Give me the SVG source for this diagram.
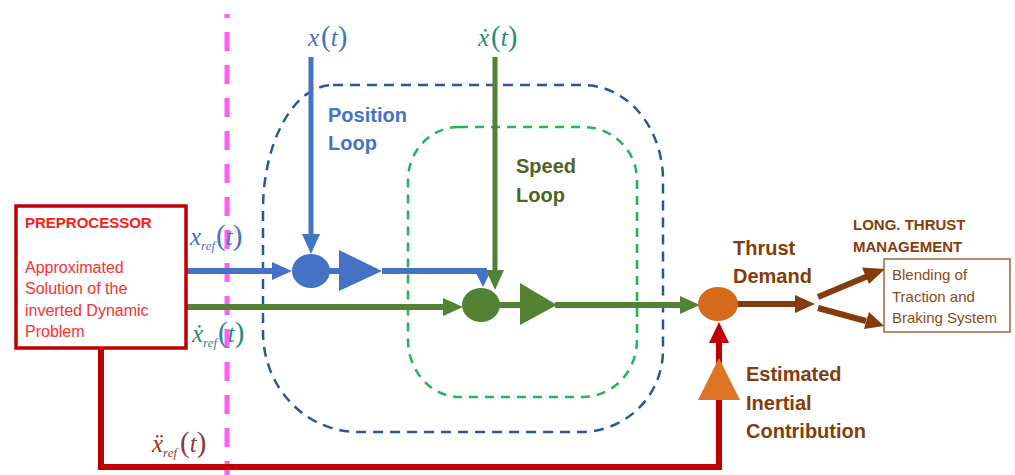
<svg xmlns="http://www.w3.org/2000/svg" width="1015" height="475" viewBox="0 0 1015 475">
<style>
.sans{font-family:"Liberation Sans",Arial,sans-serif}
.b{font-weight:bold}
.math{font-family:"Liberation Serif","DejaVu Serif",serif;font-size:25px}
.it{font-style:italic}
.par{font-size:29px}
.sub{font-size:13px;font-style:italic}
.dashblue{fill:none;stroke:#2f5597;stroke-width:2.5;stroke-dasharray:10 7}
.dashgreen{fill:none;stroke:#22b455;stroke-width:2.5;stroke-dasharray:9 7}
.blue{stroke:#4472c4;fill:none}
.green{stroke:#548235;fill:none}
.brown{stroke:#843c0c;fill:none}
.red{stroke:#c00000;fill:none}
</style>
<rect width="1015" height="475" fill="#ffffff"/>

<g id="loops">
<path id="position-loop" class="dashblue" d="M 333 85 H 583 A 80 95 0 0 1 663 180 V 350 A 82 82 0 0 1 581 432 H 358 A 95 100 0 0 1 263 332 V 210 A 70 125 0 0 1 333 85 Z"/>
<path id="speed-loop" class="dashgreen" d="M 459 127 H 583 A 54 53 0 0 1 637 180 V 340 A 54 57 0 0 1 583 397 H 460 A 52 57 0 0 1 408 340 V 180 A 51 53 0 0 1 459 127 Z"/>
</g>

<line id="boundary" x1="227" y1="14" x2="227" y2="475" stroke="#ff5cf2" stroke-width="5" stroke-dasharray="19 14" stroke-dashoffset="15"/>

<g id="connectors">
  <!-- x(t) vertical -->
  <line class="blue" x1="311" y1="57" x2="311" y2="236" stroke-width="5"/>
  <polygon points="302,234 320,234 311,254" fill="#4472c4"/>
  <!-- x_ref horizontal -->
  <line class="blue" x1="187" y1="271" x2="274" y2="271" stroke-width="6"/>
  <polygon points="272,262 272,280 292,271" fill="#4472c4"/>
  <!-- circle to gain -->
  <line class="blue" x1="311" y1="271" x2="342" y2="271" stroke-width="6"/>
  <!-- blue out to speed loop -->
  <polyline class="blue" points="382,271 484,271 484,275" stroke-width="6"/>
  <polygon points="476,273 490,273 483,287" fill="#4472c4"/>
  <!-- xdot(t) vertical -->
  <line class="green" x1="495" y1="57" x2="495" y2="272" stroke-width="5"/>
  <polygon points="486,270 504,270 495,290" fill="#548235"/>
  <!-- xdot_ref horizontal -->
  <line class="green" x1="187" y1="307" x2="445" y2="307" stroke-width="6"/>
  <polygon points="443,298 443,316 463,307" fill="#548235"/>
  <!-- circle to gain -->
  <line class="green" x1="481" y1="305" x2="523" y2="305" stroke-width="6"/>
  <!-- green out -->
  <line class="green" x1="555" y1="305" x2="682" y2="305" stroke-width="6"/>
  <polygon points="680,296 680,314 700,305" fill="#548235"/>
  <!-- brown thrust -->
  <line class="brown" x1="736" y1="304" x2="797" y2="304" stroke-width="6"/>
  <polygon points="795,295 795,313 815,304" fill="#843c0c"/>
  <line class="brown" x1="818" y1="297" x2="868" y2="276" stroke-width="6"/>
  <polygon points="862,267.5 869,284 885,269" fill="#843c0c"/>
  <line class="brown" x1="818" y1="308" x2="866" y2="321" stroke-width="6"/>
  <polygon points="869,312 864,329 884,326" fill="#843c0c"/>
  <!-- red inertial path -->
  <polyline class="red" points="101,349 101,467 719,467 719,340" stroke-width="6"/>
  <polygon points="709,343 729,343 719,322" fill="#c00000"/>
  <polygon id="inertial-gain" points="698,400 740,400 719,358" fill="#de7526"/>
</g>

<g id="preprocessor">
  <rect x="16" y="206" width="170" height="142" fill="#ffffff" stroke="#c00000" stroke-width="3.5"/>
  <text class="sans b" x="25" y="228" font-size="15" fill="#ff1a1a">PREPROCESSOR</text>
  <text class="sans" font-size="16" fill="#ff3030">
    <tspan x="25" y="273">Approximated</tspan>
    <tspan x="25" y="294">Solution of the</tspan>
    <tspan x="25" y="316">inverted Dynamic</tspan>
    <tspan x="25" y="337">Problem</tspan>
  </text>
</g>

<g id="position-sum">
  <ellipse cx="311" cy="271" rx="19" ry="17" fill="#4472c4"/>
  <polygon points="339,250 339,291 382,271" fill="#4472c4"/>
</g>

<g id="speed-sum">
  <ellipse cx="481" cy="305" rx="19" ry="17" fill="#548235"/>
  <polygon points="520,283 520,325 557,305" fill="#548235"/>
</g>

<g id="thrust-sum">
  <ellipse cx="718" cy="304" rx="20" ry="17" fill="#d46a1a"/>
</g>

<g id="thrust-management">
  <rect x="884" y="259" width="126" height="73" fill="#ffffff" stroke="#a0653a" stroke-width="1.5"/>
  <text class="sans" font-size="15" fill="#8a4a1c">
    <tspan x="892" y="280">Blending of</tspan>
    <tspan x="892" y="302">Traction and</tspan>
    <tspan x="892" y="323">Braking System</tspan>
  </text>
  <text class="sans b" font-size="15" fill="#843c0c">
    <tspan x="853" y="230">LONG. THRUST</tspan>
    <tspan x="853" y="252">MANAGEMENT</tspan>
  </text>
</g>

<g id="labels">
  <text class="sans b" font-size="20" fill="#4472c4"><tspan x="328" y="122">Position</tspan><tspan x="328" y="150">Loop</tspan></text>
  <text class="sans b" font-size="20" fill="#4f6228"><tspan x="516" y="173">Speed</tspan><tspan x="516" y="202">Loop</tspan></text>
  <text class="sans b" font-size="20" fill="#843c0c"><tspan x="733" y="255">Thrust</tspan><tspan x="733" y="283">Demand</tspan></text>
  <text class="sans b" font-size="20" fill="#843c0c"><tspan x="746" y="381">Estimated</tspan><tspan x="746" y="410">Inertial</tspan><tspan x="746" y="438">Contribution</tspan></text>

  <text class="math" x="308" y="46" fill="#4472c4"><tspan class="it">x</tspan><tspan class="par" dx="2">(</tspan><tspan class="it">t</tspan><tspan class="par">)</tspan></text>
  <text class="math" x="478" y="46" fill="#2a8a7a"><tspan class="it">ẋ</tspan><tspan class="par" dx="2">(</tspan><tspan class="it">t</tspan><tspan class="par">)</tspan></text>
  <text class="math" x="190" y="245" fill="#4472c4"><tspan class="it">x</tspan><tspan class="sub" dy="5">ref</tspan><tspan class="par" dy="-5" dx="1">(</tspan><tspan class="it">t</tspan><tspan class="par">)</tspan></text>
  <text class="math" x="192" y="342" fill="#2a8a7a"><tspan class="it">ẋ</tspan><tspan class="sub" dy="5">ref</tspan><tspan class="par" dy="-5" dx="1">(</tspan><tspan class="it">t</tspan><tspan class="par">)</tspan></text>
  <text class="math" x="152" y="452" fill="#953735"><tspan class="it">ẍ</tspan><tspan class="sub" dy="5">ref</tspan><tspan class="par" dy="-5" dx="3">(</tspan><tspan class="it">t</tspan><tspan class="par">)</tspan></text>
</g>
</svg>
